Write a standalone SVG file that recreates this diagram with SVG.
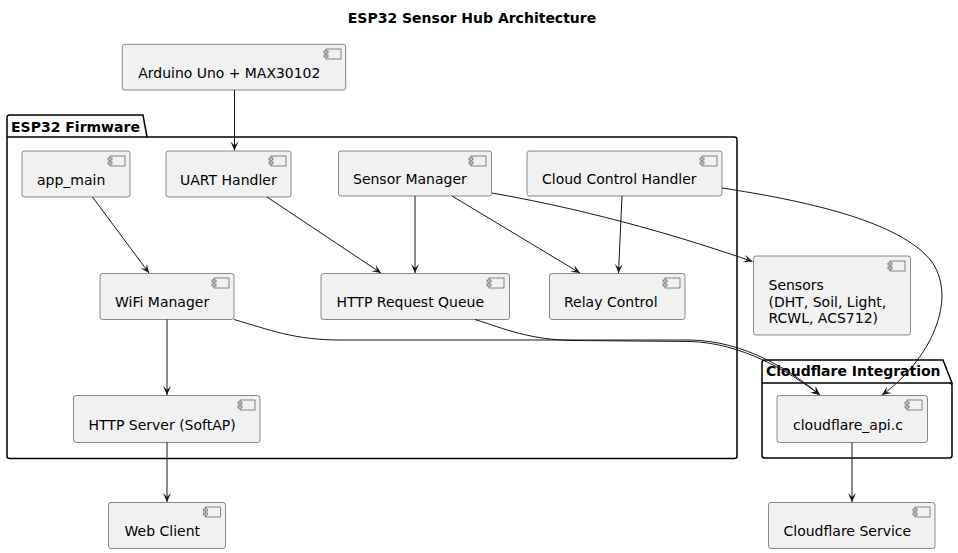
<svg xmlns="http://www.w3.org/2000/svg" width="958" height="553" viewBox="0 0 958 553">
<defs>
<style>
.box{fill:#F1F1F1;stroke:#181818;stroke-width:0.5;}
.ic{fill:#F1F1F1;stroke:#181818;stroke-width:0.5;}
.t{font-family:"DejaVu Sans",sans-serif;font-size:14px;fill:#000;}
.b{font-family:"DejaVu Sans",sans-serif;font-size:14px;font-weight:bold;fill:#000;}
.pkg{fill:none;stroke:#000;stroke-width:1.5;}
.ln{fill:none;stroke:#181818;stroke-width:1;}
</style>
<marker id="ah" markerUnits="userSpaceOnUse" viewBox="-10 -5 11 10" refX="0" refY="0" markerWidth="11" markerHeight="10" orient="auto">
<path d="M0,0 L-9,-4 L-5,0 L-9,4 Z" fill="#181818"/>
</marker>
<g id="icon">
<rect class="ic" x="0" y="0" width="15" height="10"/>
<rect class="ic" x="-2" y="2" width="4" height="2"/>
<rect class="ic" x="-2" y="6" width="4" height="2"/>
</g>
</defs>
<rect width="958" height="553" fill="#FFFFFF"/>
<text class="b" x="472" y="23" text-anchor="middle">ESP32 Sensor Hub Architecture</text>

<g id="pkg-esp32">
<path class="pkg" d="M9.5,115 L143,115 L147,137 L734.5,137 Q737,137 737,139.5 L737,456 Q737,458.5 734.5,458.5 L9.5,458.5 Q7,458.5 7,456 L7,117.5 Q7,115 9.5,115 Z"/>
<path class="pkg" d="M7,137 L147,137"/>
<text class="b" x="11" y="132">ESP32 Firmware</text>
</g>
<g id="pkg-cloudflare">
<path class="pkg" d="M764.5,360 L943,360 L952,383 L949.5,383 Q952,383 952,385.5 L952,455.5 Q952,458 949.5,458 L764.5,458 Q762,458 762,455.5 L762,362.5 Q762,360 764.5,360 Z"/>
<path class="pkg" d="M762,383 L952,383"/>
<text class="b" x="766" y="376">Cloudflare Integration</text>
</g>

<g id="arduino">
<rect class="box" x="122.3" y="44.3" width="223.4" height="45.7" rx="2.5"/>
<use href="#icon" x="326" y="49"/>
<text class="t" x="138.3" y="78" textLength="182" lengthAdjust="spacingAndGlyphs">Arduino Uno + MAX30102</text>
</g>
<g id="app_main">
<rect class="box" x="22" y="151" width="108" height="46" rx="2.5"/>
<use href="#icon" x="110" y="156"/>
<text class="t" x="37" y="185">app_main</text>
</g>
<g id="uart">
<rect class="box" x="166" y="151" width="125" height="46" rx="2.5"/>
<use href="#icon" x="271" y="156"/>
<text class="t" x="180" y="185">UART Handler</text>
</g>
<g id="sensor_manager">
<rect class="box" x="338.5" y="151" width="153" height="45" rx="2.5"/>
<use href="#icon" x="471" y="156"/>
<text class="t" x="353" y="184">Sensor Manager</text>
</g>
<g id="cloud_control">
<rect class="box" x="527" y="151" width="195" height="45" rx="2.5"/>
<use href="#icon" x="702" y="156"/>
<text class="t" x="542" y="184">Cloud Control Handler</text>
</g>
<g id="wifi">
<rect class="box" x="100" y="273.5" width="134" height="46" rx="2.5"/>
<use href="#icon" x="214" y="278"/>
<text class="t" x="115" y="307">WiFi Manager</text>
</g>
<g id="queue">
<rect class="box" x="321" y="273.5" width="188.5" height="46" rx="2.5"/>
<use href="#icon" x="489" y="278"/>
<text class="t" x="336.5" y="307">HTTP Request Queue</text>
</g>
<g id="relay">
<rect class="box" x="549.5" y="273.5" width="135.5" height="46" rx="2.5"/>
<use href="#icon" x="665" y="278"/>
<text class="t" x="564" y="307">Relay Control</text>
</g>
<g id="sensors">
<rect class="box" x="753.5" y="256" width="157" height="79" rx="2.5"/>
<use href="#icon" x="890" y="261"/>
<text class="t" x="768.5" y="290">Sensors</text>
<text class="t" x="768.5" y="306.5">(DHT, Soil, Light,</text>
<text class="t" x="768.5" y="323">RCWL, ACS712)</text>
</g>
<g id="http_server">
<rect class="box" x="73.5" y="395.5" width="186.5" height="47" rx="2.5"/>
<use href="#icon" x="240" y="400"/>
<text class="t" x="88.5" y="430">HTTP Server (SoftAP)</text>
</g>
<g id="cloudflare_api">
<rect class="box" x="777" y="395.5" width="150.5" height="47" rx="2.5"/>
<use href="#icon" x="907" y="400"/>
<text class="t" x="793" y="430">cloudflare_api.c</text>
</g>
<g id="web_client">
<rect class="box" x="108.5" y="502.5" width="117" height="46" rx="2.5"/>
<use href="#icon" x="205.5" y="507"/>
<text class="t" x="124.5" y="536">Web Client</text>
</g>
<g id="cloudflare_service">
<rect class="box" x="768.5" y="502.5" width="166.5" height="46" rx="2.5"/>
<use href="#icon" x="915" y="507"/>
<text class="t" x="783.5" y="536">Cloudflare Service</text>
</g>

<g id="connectors">
<path class="ln" marker-end="url(#ah)" d="M234.5,90 L234.5,150.5"/>
<path class="ln" marker-end="url(#ah)" d="M92.5,197 L149,273"/>
<path class="ln" marker-end="url(#ah)" d="M267,197 L381,273"/>
<path class="ln" marker-end="url(#ah)" d="M415,196 L415,273"/>
<path class="ln" marker-end="url(#ah)" d="M452,196 L580,273"/>
<path class="ln" marker-end="url(#ah)" d="M622,196 L618.5,273"/>
<path class="ln" marker-end="url(#ah)" d="M492,193 C600,212 690,240 752.5,261.5"/>
<path class="ln" marker-end="url(#ah)" d="M722,188 C800,200 900,220 932,262 C958,300 930,360 882,395"/>
<path class="ln" marker-end="url(#ah)" d="M234,319.5 C270,330 295,340 340,340 L690,340 C745,341 790,370 820,395"/>
<path class="ln" marker-end="url(#ah)" d="M475,319.5 C505,329 530,340 575,340.5 L690,341.5 C742,343 788,371 820,395"/>
<path class="ln" marker-end="url(#ah)" d="M167,319.5 L167,395"/>
<path class="ln" marker-end="url(#ah)" d="M167,442.5 L167,502"/>
<path class="ln" marker-end="url(#ah)" d="M852,442.5 L852,502"/>
</g>
</svg>
